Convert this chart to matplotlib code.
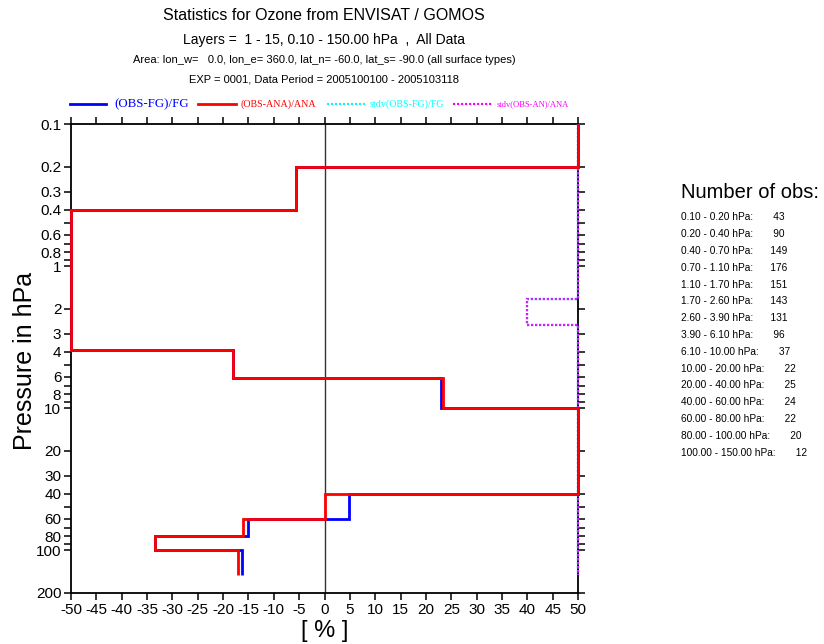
import numpy as np
import matplotlib.pyplot as plt
from matplotlib.lines import Line2D

plt.rcParams['font.family'] = ['Liberation Sans', 'DejaVu Sans']

# Limites de las capas en hPa
capas = [0.1, 0.2, 0.4, 0.7, 1.1, 1.7, 2.6, 3.9, 6.1, 10, 20, 40, 60, 80, 100, 150]

# Estadisticas por capa en % (+-50 = fuera de escala)
obs_fg = [50, -5.7, -50, -50, -50, -50, -50, -18.1, 22.9, 50, 50, 4.9, -15.0, -33.4, -16.3]
obs_ana = [50, -5.7, -50, -50, -50, -50, -50, -18.0, 23.4, 50, 50, 0.1, -16.0, -33.4, -17.1]
stdv_fg = [50, 50, 50, 50, 50, 40, 50, 50, 50, 50, 50, 50, 50, 50, 50]
stdv_an = [50, 50, 50, 50, 50, 40, 50, 50, 50, 50, 50, 50, 50, 50, 50]

n_obs = [43, 90, 149, 176, 151, 143, 131, 96, 37, 22, 25, 24, 22, 20, 12]

xticks = list(range(-50, 55, 5))
ytick_labels = [0.1, 0.2, 0.3, 0.4, 0.6, 0.8, 1, 2, 3, 4, 6, 8, 10, 20, 30, 40, 60, 80, 100, 200]

W, H = 824, 644
PUNTOS = (0, (1, 0.8))


def fx(px):
    return px / W


def fy(py):
    return 1 - py / H


def graficar():
    fig = plt.figure(figsize=(W / 100, H / 100), dpi=100)
    ax = fig.add_axes([fx(71), fy(593), fx(578) - fx(71), fy(124) - fy(593)])

    ax.set_yscale('log')
    ax.set_xlim(-50, 50)
    ax.set_ylim(200, 0.1)

    ax.axvline(0, color='#333333', linewidth=1.0, zorder=1)

    series = [
        (stdv_fg, '#00ffff', PUNTOS, 1.6),
        (stdv_an, '#d020ff', PUNTOS, 1.6),
        (obs_fg, '#0000ff', '-', 2.0),
        (obs_ana, '#ff0000', '-', 2.0),
    ]
    for vals, col, ls, lw in series:
        st = ax.stairs(np.clip(vals, -50, 50), capas, orientation='horizontal',
                       baseline=None, color=col, linestyle=ls, linewidth=lw, zorder=3)
        st.set_clip_on(False)

    # Ticks
    yt = []
    for dec in [0.1, 1, 10, 100]:
        for m in range(1, 10):
            v = round(m * dec, 3)
            if v <= 100:
                yt.append(v)
    yt.append(200)
    ax.set_yticks(yt)
    ax.set_yticklabels([f"{v:g}" if v in ytick_labels else "" for v in yt])
    ax.yaxis.set_minor_locator(plt.NullLocator())
    ax.set_xticks(xticks)
    ax.set_xticklabels([str(v) for v in xticks])
    ax.tick_params(direction='out', length=5, width=1.1, labelsize=11, pad=2,
                   top=True, right=True)
    for s in ax.spines.values():
        s.set_linewidth(1.3)

    ax.set_ylabel('Pressure in hPa', fontsize=18)
    ax.yaxis.set_label_coords(-0.068, 0.495)
    ax.set_xlabel('[ % ]', fontsize=17, labelpad=2)

    # Titulos
    cx = fx(324)
    fig.text(cx, fy(15), 'Statistics for Ozone from ENVISAT / GOMOS', ha='center', va='center', fontsize=11.5)
    fig.text(cx, fy(40), 'Layers =  1 - 15, 0.10 - 150.00 hPa  ,  All Data', ha='center', va='center', fontsize=10)
    fig.text(cx, fy(60), 'Area: lon_w=   0.0, lon_e= 360.0, lat_n= -60.0, lat_s= -90.0 (all surface types)',
             ha='center', va='center', fontsize=8)
    fig.text(cx, fy(79), 'EXP = 0001, Data Period = 2005100100 - 2005103118', ha='center', va='center', fontsize=8)

    # Leyenda manual
    ly = fy(104)
    leyenda = [
        (70, 106, 114, '(OBS-FG)/FG', '#0000ff', '-', 9.3),
        (198, 236, 241, '(OBS-ANA)/ANA', '#ff0000', '-', 7.2),
        (327, 365, 370, 'stdv(OBS-FG)/FG', '#00ffff', PUNTOS, 7.2),
        (453, 492, 497, 'stdv(OBS-AN)/ANA', '#ff00ff', PUNTOS, 6.1),
    ]
    for x0, x1, xt, txt, col, ls, fs in leyenda:
        fig.add_artist(Line2D([fx(x0), fx(x1)], [ly, ly], color=col, linestyle=ls, linewidth=2 if ls == '-' else 1.6))
        fig.text(fx(xt), ly, txt, color=col, ha='left', va='center', fontsize=fs,
                 family=['Liberation Serif', 'DejaVu Serif'])

    # Numero de observaciones
    fig.text(fx(681), fy(193), 'Number of obs:', ha='left', va='center', fontsize=14.5)
    for i, n in enumerate(n_obs):
        etiqueta = f"{capas[i]:.2f} - {capas[i + 1]:.2f} hPa:"
        fig.text(fx(681), fy(217.3 + i * 16.8), f"{etiqueta}{n:9d}", ha='left', va='center', fontsize=7.3)

    plt.savefig('out.png', dpi=100)


if __name__ == "__main__":
    graficar()
